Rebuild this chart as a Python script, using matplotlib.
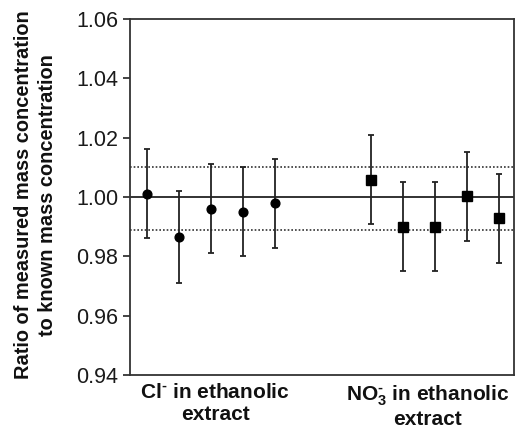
import matplotlib
matplotlib.use("Agg")
import matplotlib.pyplot as plt

# Data
cl_pos = [1, 2, 3, 4, 5]
cl_vals = [1.001, 0.9866, 0.996, 0.995, 0.9978]
cl_err = [0.015, 0.0155, 0.015, 0.015, 0.015]
no3_pos = [8, 9, 10, 11, 12]
no3_vals = [1.0058, 0.990, 0.990, 1.0002, 0.9928]
no3_err = [0.015, 0.015, 0.015, 0.015, 0.015]
ref_line = 1.0
limit_lines = [1.0102, 0.989]
yticks = [0.94, 0.96, 0.98, 1.00, 1.02, 1.04, 1.06]
group_labels = ["Cl$^{\\text{-}}$ in ethanolic\nextract",
                "NO$_\\mathbf{3}^{\\text{-}}$ in ethanolic\nextract"]
group_label_pos = [3.13, 9.78]

plt.rcParams['font.family'] = ['Liberation Sans', 'DejaVu Sans']
plt.rcParams['mathtext.fontset'] = 'custom'
plt.rcParams['mathtext.rm'] = 'Liberation Sans:bold'
plt.rcParams['mathtext.bf'] = 'Liberation Sans:bold'
plt.rcParams['mathtext.it'] = 'Liberation Sans:italic'

fig = plt.figure(figsize=(5.15, 4.3), dpi=100)
ax = fig.add_axes([0.2524, 0.128, 0.745, 0.828])

ax.axhline(ref_line, color='#222222', lw=1.3, zorder=1)
for v in limit_lines:
    ax.axhline(v, color='#333333', lw=1.2, ls=(0, (1, 1.2)), zorder=1)

ax.errorbar(cl_pos, cl_vals, yerr=cl_err, fmt='o', color='black', ms=6.3,
            ecolor='#222222', elinewidth=1.3, capsize=2.4, capthick=1.3, zorder=3)
ax.errorbar(no3_pos, no3_vals, yerr=no3_err, fmt='s', color='black', ms=6.6,
            ecolor='#222222', elinewidth=1.3, capsize=2.4, capthick=1.3, zorder=3)

ax.set_xlim(0.47, 12.47)
ax.set_ylim(0.94, 1.06)
ax.set_yticks(yticks)
ax.set_yticklabels([f"{t:.2f}" for t in yticks], fontsize=15.5, color='#1a1a1a')
ax.set_xticks([])
ax.tick_params(axis='y', direction='out', length=5, width=1.2, color='#222222', pad=3.5)
for s in ax.spines.values():
    s.set_color('#333333')
    s.set_linewidth(1.3)

for lbl, p in zip(group_labels, group_label_pos):
    ax.text(p, 0.9372, lbl, ha='center', va='top', fontsize=15, fontweight='bold',
            color='#111111', linespacing=1.15)

fig.text(0.069, 0.547, "Ratio of measured mass concentration\nto known mass concentration",
         rotation=90, ha='center', va='center', multialignment='center',
         fontsize=14.4, fontweight='bold', color='#111111', linespacing=1.3)

fig.savefig("out.png", dpi=100)
